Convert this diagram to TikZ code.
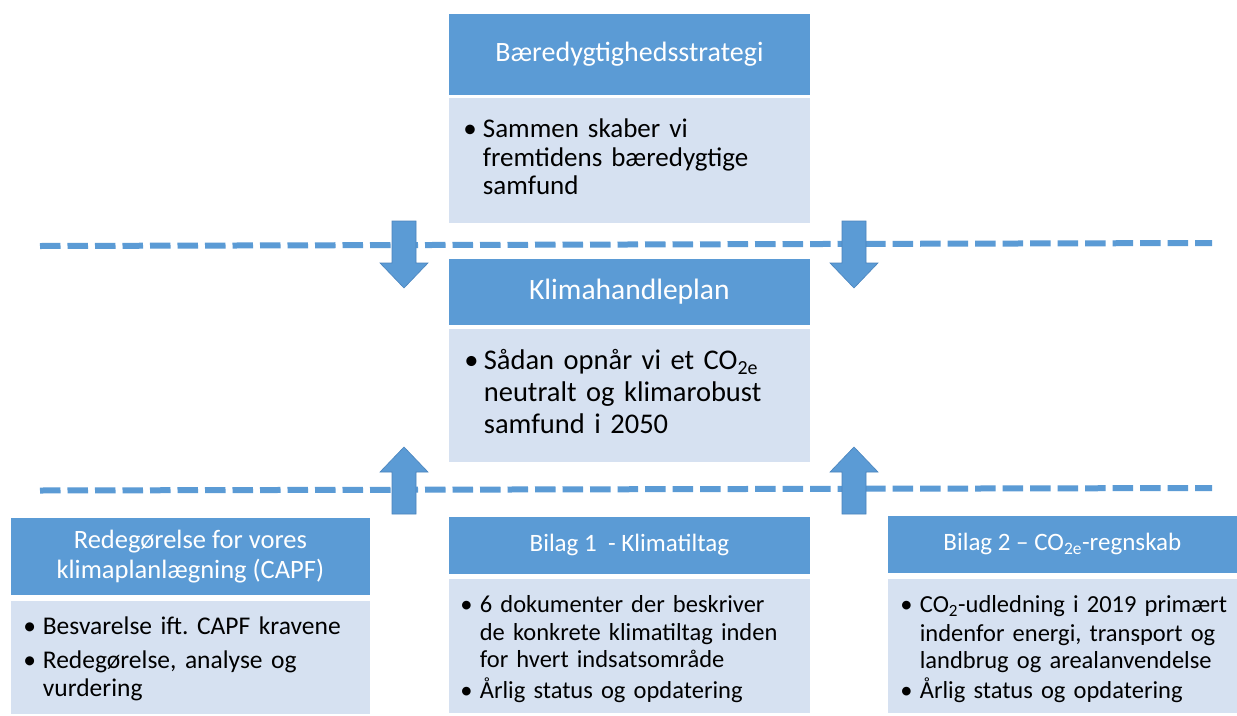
\documentclass[tikz,border=0pt]{standalone}
\usepackage{fontspec}
\setmainfont{Carlito}
\frenchspacing
\definecolor{hblue}{HTML}{5B9BD5}
\definecolor{bblue}{HTML}{D6E1F1}
\definecolor{aedge}{HTML}{4A84BD}

% bullet list set as a two-column table: bullet column + text column;
% the optional argument raises the first row (extra room above the list)
\newcommand\blist[2][0pt]{\begin{tabular}{@{}p{19.5pt}@{}l@{}}%
  \rule{0pt}{\dimexpr0.7\baselineskip+#1\relax}#2\end{tabular}}

\tikzset{
  hdr/.style={draw=white, line width=0.75pt, fill=hblue, text=white,
    anchor=north west, inner sep=0pt, align=center},
  bdy/.style={draw=white, line width=0.75pt, fill=bblue, text=black,
    anchor=north west, inner ysep=0pt, align=left},
  sepline/.style={draw=hblue, line width=6pt, dash pattern=on 20.5pt off 7pt},
  arrowfill/.style={fill=hblue, draw=aedge, line width=0.6pt},
  blockarrow/.pic={\path[arrowfill] (-12,0) -- (12,0) -- (12,42) -- (24,42)
    -- (0,67) -- (-24,42) -- (-12,42) -- cycle;}
}

\begin{document}
\begin{tikzpicture}[x=1pt,y=-1pt]
\useasboundingbox[fill=white] (0,0) rectangle (1237,715);

% dashed level separators
\coordinate (d1a) at (40,246);
\coordinate (d1b) at (1212,243);
\coordinate (d2a) at (40,490.5);
\coordinate (d2b) at (1212,488);
\draw[sepline] (d1a) -- (d1b);
\draw[sepline] (d2a) -- (d2b);

% strategy level
\node[hdr, minimum width=362pt, minimum height=82pt,
  font=\fontsize{28}{30}\selectfont] (shead) at (448,13) {Bæredygtighedsstrategi};
\node[bdy, inner xsep=15pt, text width=332pt, minimum height=126pt,
  font=\fontsize{27}{28.5}\selectfont] (sbody) at (448,97)
  {\blist{\textbullet & Sammen skaber vi\\ & fremtidens bæredygtige\\ & samfund}};

% climate action plan
\node[hdr, minimum width=362pt, minimum height=67pt,
  font=\fontsize{29.5}{31}\selectfont] (khead) at (448,258) {Klimahandleplan};
\node[bdy, inner xsep=16pt, text width=330pt, minimum height=134pt,
  font=\fontsize{28.5}{32}\selectfont] (kbody) at (448,328)
  {\blist{\textbullet & Sådan opnår vi et CO\textsubscript{2e}\\ & neutralt og klimarobust\\ & samfund i 2050}};

% supporting documents
\node[hdr, minimum width=360pt, minimum height=78pt,
  font=\fontsize{26.5}{30}\selectfont] (rhead) at (10,517)
  {Redegørelse for vores\\klimaplanlægning (CAPF)};
\node[bdy, inner xsep=13pt, text width=334pt, minimum height=114pt,
  font=\fontsize{25.5}{27.5}\selectfont] (rbody) at (10,600)
  {\blist[5pt]{\textbullet & Besvarelse ift. CAPF kravene\\[7pt] \textbullet & Redegørelse, analyse og\\ & vurdering}};

\node[hdr, minimum width=362pt, minimum height=58pt,
  font=\fontsize{25}{27}\selectfont] (b1head) at (448,516) {Bilag 1\ \ - Klimatiltag};
\node[bdy, inner xsep=12pt, text width=338pt, minimum height=135pt,
  font=\fontsize{24.5}{27.5}\selectfont] (b1body) at (448,578)
  {\blist[9pt]{\textbullet & 6 dokumenter der beskriver\\ & de konkrete klimatiltag inden\\ & for hvert indsatsområde\\[2pt] \textbullet & Årlig status og opdatering}};

\node[hdr, minimum width=350pt, minimum height=58pt,
  font=\fontsize{25}{27}\selectfont] (b2head) at (887,515) {Bilag 2 – CO\textsubscript{2e}-regnskab};
\node[bdy, inner xsep=13pt, text width=324pt, minimum height=135pt,
  font=\fontsize{24.5}{27.5}\selectfont] (b2body) at (887,578)
  {\blist[9pt]{\textbullet & CO\textsubscript{2}-udledning i 2019 primært\\[1pt] & indenfor energi, transport og\\ & landbrug og arealanvendelse\\[1pt] \textbullet & Årlig status og opdatering}};

% block arrows between the levels
\pic at (404,221) {blockarrow};
\pic at (854,221) {blockarrow};
\pic[rotate=180] at (404,514) {blockarrow};
\pic[rotate=180] at (854,514) {blockarrow};
\end{tikzpicture}
\end{document}
